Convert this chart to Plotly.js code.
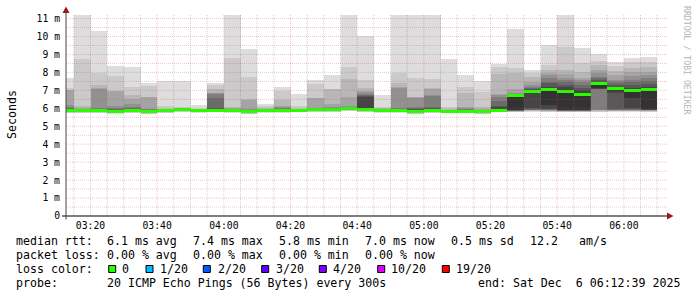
<!DOCTYPE html>
<html><head><meta charset="utf-8">
<script src="https://cdn.plot.ly/plotly-3.0.1.min.js"></script>
<style>html,body{margin:0;padding:0;background:#fff;}#chart{width:697px;height:297px;}</style>
</head><body><div id="chart"></div>
<script>
// ---------------- data ----------------
const day = '2025-12-06 ';
const binEnds = ['03:15','03:20','03:25','03:30','03:35','03:40','03:45','03:50','03:55','04:00',
  '04:05','04:10','04:15','04:20','04:25','04:30','04:35','04:40','04:45','04:50','04:55','05:00',
  '05:05','05:10','05:15','05:20','05:25','05:30','05:35','05:40','05:45','05:50','05:55','06:00','06:05','06:10'];
// 20 sorted ping RTTs (ms) per 5-minute step
const pings = [
  [5.73,5.75,5.77,5.78,5.79,5.80,5.81,5.82,5.83,5.85,5.88,5.92,5.96,6.00,6.05,6.20,7.00,7.02,7.15,7.67],
  [5.72,5.75,5.77,5.79,5.80,5.81,5.82,5.83,5.84,5.85,5.87,5.89,5.91,5.93,5.95,5.97,6.00,6.13,8.75,11.20],
  [5.73,5.75,5.77,5.78,5.79,5.80,5.81,5.82,5.83,5.85,5.88,5.92,5.95,5.98,6.02,7.10,7.12,7.30,7.95,10.29],
  [5.71,5.73,5.75,5.76,5.77,5.78,5.79,5.80,5.81,5.82,5.85,5.88,5.93,5.98,6.03,6.13,6.96,6.98,7.80,8.37],
  [5.74,5.76,5.78,5.79,5.80,5.81,5.82,5.83,5.84,5.86,5.89,5.92,5.95,6.00,6.10,6.26,6.52,6.76,7.17,8.30],
  [5.69,5.71,5.73,5.75,5.76,5.78,5.79,5.80,5.81,5.82,5.85,5.88,5.90,5.92,5.95,5.98,6.63,6.65,7.24,7.43],
  [5.74,5.76,5.78,5.79,5.80,5.81,5.82,5.83,5.84,5.85,5.87,5.88,5.89,5.90,5.91,5.92,5.93,5.95,6.13,7.52],
  [5.80,5.82,5.84,5.85,5.86,5.87,5.88,5.89,5.90,5.91,5.93,5.94,5.95,5.96,5.97,5.98,5.99,6.00,6.06,7.52],
  [5.75,5.77,5.79,5.80,5.81,5.82,5.83,5.84,5.85,5.86,5.88,5.89,5.90,5.91,5.92,5.93,5.94,5.95,5.97,6.18],
  [5.77,5.79,5.81,5.82,5.83,5.84,5.85,5.86,5.87,5.88,5.91,5.95,6.00,6.55,6.82,6.83,6.84,7.05,7.30,7.43],
  [5.75,5.77,5.79,5.80,5.81,5.82,5.83,5.84,5.85,5.86,5.88,5.90,5.91,5.92,5.94,5.96,6.00,6.10,8.82,11.20],
  [5.68,5.70,5.72,5.73,5.74,5.75,5.76,5.77,5.78,5.79,5.82,5.85,5.87,5.90,5.93,5.97,6.48,6.50,7.76,9.30],
  [5.76,5.78,5.80,5.81,5.82,5.83,5.84,5.85,5.86,5.87,5.89,5.90,5.91,5.92,5.93,5.94,5.95,6.00,6.13,6.24],
  [5.75,5.77,5.79,5.80,5.81,5.82,5.83,5.84,5.85,5.86,5.89,5.91,5.93,5.96,6.00,6.05,6.13,6.48,6.98,7.18],
  [5.78,5.80,5.82,5.83,5.84,5.85,5.86,5.87,5.88,5.89,5.91,5.92,5.93,5.94,5.95,5.96,5.97,5.98,6.13,6.80],
  [5.79,5.81,5.83,5.84,5.85,5.86,5.87,5.88,5.89,5.90,5.93,5.94,5.96,5.98,6.00,6.04,6.57,6.59,7.35,7.58],
  [5.80,5.82,5.84,5.85,5.86,5.87,5.88,5.89,5.90,5.91,5.94,5.95,5.96,5.98,6.00,6.05,6.22,7.05,7.10,7.86],
  [5.85,5.87,5.89,5.90,5.91,5.92,5.93,5.94,5.95,5.96,5.98,6.00,6.02,6.05,6.08,6.13,6.65,7.65,8.32,11.20],
  [5.79,5.81,5.83,5.84,5.85,5.86,5.87,5.88,5.89,5.90,5.95,6.65,6.70,6.74,6.80,6.90,6.98,7.12,7.58,10.03],
  [5.76,5.78,5.80,5.81,5.82,5.83,5.84,5.85,5.86,5.87,5.89,5.90,5.91,5.92,5.93,5.94,5.96,6.00,6.09,6.74],
  [5.76,5.78,5.80,5.81,5.82,5.83,5.84,5.85,5.86,5.87,5.90,5.92,5.95,5.97,6.00,7.15,7.17,7.43,7.98,11.20],
  [5.69,5.71,5.73,5.74,5.75,5.76,5.77,5.78,5.79,5.80,5.85,5.90,5.95,6.00,6.07,6.60,6.62,6.63,7.67,11.20],
  [5.74,5.76,5.78,5.79,5.80,5.81,5.82,5.83,5.84,5.85,5.90,5.95,6.00,6.06,6.70,6.72,7.10,7.12,7.62,11.20],
  [5.72,5.74,5.76,5.77,5.78,5.79,5.80,5.81,5.82,5.83,5.85,5.86,5.87,5.88,5.89,5.90,5.91,5.95,6.10,8.75],
  [5.72,5.74,5.76,5.77,5.78,5.79,5.80,5.81,5.82,5.83,5.86,5.88,5.90,5.92,5.95,6.00,6.10,6.83,7.17,7.86],
  [5.69,5.71,5.73,5.74,5.75,5.76,5.77,5.78,5.79,5.80,5.82,5.83,5.85,5.86,5.88,5.90,5.95,6.10,6.92,7.52],
  [5.78,5.80,5.82,5.83,5.84,5.85,5.86,5.87,5.88,5.89,5.95,6.05,6.15,6.40,6.65,6.75,6.80,7.92,8.32,8.45],
  [5.78,5.80,5.82,5.83,5.84,5.85,5.86,5.88,5.90,5.92,6.74,6.76,6.77,6.79,6.82,6.88,7.10,7.98,8.23,10.42],
  [5.82,5.84,5.86,5.88,5.89,5.90,5.92,5.95,6.00,6.90,6.97,7.00,7.05,7.11,7.20,7.30,7.48,7.73,7.95,8.13],
  [5.80,5.82,5.84,5.86,5.88,5.90,5.92,5.94,5.97,6.18,7.05,7.20,7.42,7.48,7.67,7.86,7.95,8.13,8.40,9.50],
  [5.78,5.80,5.82,5.84,5.85,5.86,5.87,5.88,5.90,5.92,6.95,7.17,7.30,7.45,7.58,7.71,7.89,8.13,9.40,11.20],
  [5.78,5.80,5.82,5.83,5.84,5.85,5.86,5.88,5.90,5.92,6.80,7.00,7.15,7.30,7.45,7.55,7.70,8.04,8.50,9.35],
  [5.78,5.82,5.85,5.88,5.90,5.92,7.05,7.08,7.10,7.12,7.40,7.45,7.55,7.67,7.75,7.95,8.15,8.40,8.65,9.00],
  [5.80,5.83,5.85,5.87,5.89,5.90,5.92,5.95,6.85,6.95,7.15,7.20,7.30,7.40,7.50,7.60,7.85,8.10,8.37,8.60],
  [5.80,5.83,5.85,5.87,5.89,5.90,5.92,5.95,6.00,6.55,7.00,7.15,7.30,7.48,7.60,7.80,8.00,8.23,8.60,8.80],
  [5.80,5.82,5.84,5.86,5.88,5.89,5.90,5.92,5.93,5.95,7.05,7.20,7.35,7.50,7.70,7.85,8.05,8.30,8.60,8.85]
];
const medianRtt = [5.86,5.86,5.86,5.83,5.87,5.83,5.86,5.92,5.87,5.89,5.87,5.80,5.88,5.87,5.90,5.91,5.92,5.97,
  5.92,5.88,5.88,5.81,5.86,5.83,5.84,5.81,5.90,6.72,6.95,7.04,6.93,6.78,7.38,7.12,6.98,7.03];
const lossCount = [0,0,0,0,0,0,0,0,0,0,0,0,0,0,0,0,0,0,0,0,0,0,0,0,0,0,0,0,0,0,0,0,0,0,0,0];

const xTickTimes = ['03:20','03:40','04:00','04:20','04:40','05:00','05:20','05:40','06:00'];
const yTickVals = [0,1,2,3,4,5,6,7,8,9,10,11];
const yTickLabels = ['0','1 m','2 m','3 m','4 m','5 m','6 m','7 m','8 m','9 m','10 m','11 m'];

const rttLabel = 'median rtt:';
const rttStats = ['6.1 ms avg','7.4 ms max','5.8 ms min','7.0 ms now','0.5 ms sd','12.2','am/s'];
const lossLabel = 'packet loss:';
const lossStats = ['0.00 % avg','0.00 % max','0.00 % min','0.00 % now'];
const lossLegendLabels = ['0','1/20','2/20','3/20','4/20','10/20','19/20'];
const lossLegendThresh = [0,1,2,3,4,10,19];
const probeText = '20 ICMP Echo Pings (56 Bytes) every 300s';
const endText = 'end: Sat Dec\u00a0 6 06:12:39 2025';

// ---------------- styles ----------------
const smokeColors = ['#dddddd','#cacaca','#b7b7b7','#a4a4a4','#919191','#7e7e7e','#6b6b6b','#585858','#454545','#323232'];
const lossColors = ['#26ff00','#00b8ff','#0059ff','#5e00ff','#7e00ff','#dd00ff','#ff0000'];
const MONO = 'DejaVu Sans Mono';
const STEP = 300000;
const L = 66, T = 15, PW = 600, PH = 201;
const px = x => (x - L) / PW;
const py = y => (T + PH - y) / PH;
const yTop = PH / 17.95;

const xs = binEnds.map(t => day + t + ':00');
const traces = [];
for (let k = 0; k < 10; k++) {
  traces.push({
    type: 'bar', x: xs,
    base: pings.map(p => p[k]),
    y: pings.map(p => p[19 - k] - p[k]),
    width: STEP, offset: -STEP,
    marker: {color: smokeColors[k], line: {width: 0}},
    hoverinfo: 'skip'
  });
}
const medH = 0.17;
function lossColorFor(n) {
  let c = lossColors[0];
  lossLegendThresh.forEach((t, i) => { if (n >= t) c = lossColors[i]; });
  return c;
}
traces.push({
  type: 'bar', x: xs,
  base: medianRtt.map(m => m - medH / 2),
  y: medianRtt.map(() => medH),
  width: STEP, offset: -STEP,
  marker: {color: lossCount.map(lossColorFor), line: {width: 0}},
  hoverinfo: 'skip'
});

// grid + axes decorations
const shapes = [];
const pink = 'rgba(225,70,70,0.32)', gray = 'rgba(128,128,128,0.38)';
for (let m = 195; m <= 370; m += 5) {
  const hh = String(Math.floor(m / 60)).padStart(2, '0'), mm = String(m % 60).padStart(2, '0');
  shapes.push({type: 'line', xref: 'x', yref: 'paper', x0: day + hh + ':' + mm, x1: day + hh + ':' + mm, y0: 0, y1: 1,
    line: {color: m % 20 === 0 ? pink : gray, width: 1, dash: '1px,1px'}, layer: 'above'});
}
for (let v = 0.5; v <= 11.01; v += 0.5) {
  shapes.push({type: 'line', xref: 'paper', yref: 'y', x0: 0, x1: px(668), y0: v, y1: v,
    line: {color: pink, width: 1, dash: '1px,1px'}, layer: 'above'});
}
shapes.push({type: 'line', xref: 'paper', yref: 'paper', x0: px(62), x1: px(667), y0: 0, y1: 0, line: {color: '#000', width: 1}, layer: 'above'});
shapes.push({type: 'line', xref: 'paper', yref: 'paper', x0: 0, x1: 0, y0: py(219.5), y1: py(12), line: {color: '#444', width: 1}, layer: 'above'});
shapes.push({type: 'path', xref: 'paper', yref: 'paper', layer: 'above',
  path: `M ${px(667)} ${py(212.5)} L ${px(673.5)} ${py(216)} L ${px(667)} ${py(219.5)} Z`,
  fillcolor: '#a01818', line: {width: 0}});
shapes.push({type: 'path', xref: 'paper', yref: 'paper', layer: 'above',
  path: `M ${px(62.5)} ${py(13)} L ${px(66)} ${py(6.5)} L ${px(69.5)} ${py(13)} Z`,
  fillcolor: '#a01818', line: {width: 0}});

// legend
const annotations = [];
const lf = {family: MONO, size: 11.6, color: '#000'};
function txt(x, y, s, extra) {
  annotations.push(Object.assign({xref: 'paper', yref: 'paper', x: px(x), y: py(y), text: s, showarrow: false,
    xanchor: 'left', yanchor: 'middle', borderpad: 0, borderwidth: 0, font: lf}, extra || {}));
}
const statX = [107.3, 193.3, 279.3, 365, 451, 530.7, 579.3];
txt(15.5, 241, rttLabel);
rttStats.forEach((s, i) => txt(statX[i] - 0.5, 241, s));
txt(15.5, 255, lossLabel);
lossStats.forEach((s, i) => txt(statX[i] - 0.5, 255, s));
txt(15.5, 269, 'loss color:');
const boxX = [108.7, 146, 203.3, 261.7, 319.3, 377.7, 442.3];
const boxLabX = [122.7, 160.7, 218.3, 276, 333.3, 391.7, 456.7];
lossLegendLabels.forEach((s, i) => {
  shapes.push({type: 'rect', xref: 'paper', yref: 'paper', x0: px(boxX[i]), x1: px(boxX[i] + 7), y0: py(272.5), y1: py(265.5),
    fillcolor: lossColors[i], line: {color: '#000', width: 1}});
  txt(boxLabX[i] - 0.5, 269, s);
});
txt(15.5, 283, 'probe:');
txt(106.8, 283, probeText);
txt(477.8, 283, endText);
annotations.push({xref: 'paper', yref: 'paper', x: px(12), y: py(115), text: 'Seconds', showarrow: false,
  textangle: -90, xanchor: 'center', yanchor: 'middle', font: lf});
annotations.push({xref: 'paper', yref: 'paper', x: px(687), y: py(60), text: 'RRDTOOL / TOBI OETIKER', showarrow: false,
  textangle: 90, xanchor: 'center', yanchor: 'middle', font: {family: MONO, size: 8.2, color: '#b4b4b4'}});

const layout = {
  width: 697, height: 297,
  margin: {l: L, r: 697 - L - PW, t: T, b: 297 - T - PH, pad: 0},
  paper_bgcolor: '#fff', plot_bgcolor: '#fff',
  barmode: 'overlay', bargap: 0, showlegend: false,
  xaxis: {type: 'date', range: [day + '03:12:39', day + '06:12:39'],
    tickvals: xTickTimes.map(t => day + t), ticktext: xTickTimes,
    showgrid: false, zeroline: false, showline: false, ticks: '', ticklabelstandoff: 2,
    tickfont: {family: MONO, size: 9.75, color: '#000'}, fixedrange: true},
  yaxis: {range: [0, yTop], tickvals: yTickVals, ticktext: yTickLabels,
    showgrid: false, zeroline: false, showline: false, ticks: '', ticklabelstandoff: 5,
    tickfont: {family: MONO, size: 9.75, color: '#000'}, fixedrange: true},
  shapes: shapes, annotations: annotations
};
Plotly.newPlot('chart', traces, layout, {staticPlot: true, displayModeBar: false});
</script></body></html>
